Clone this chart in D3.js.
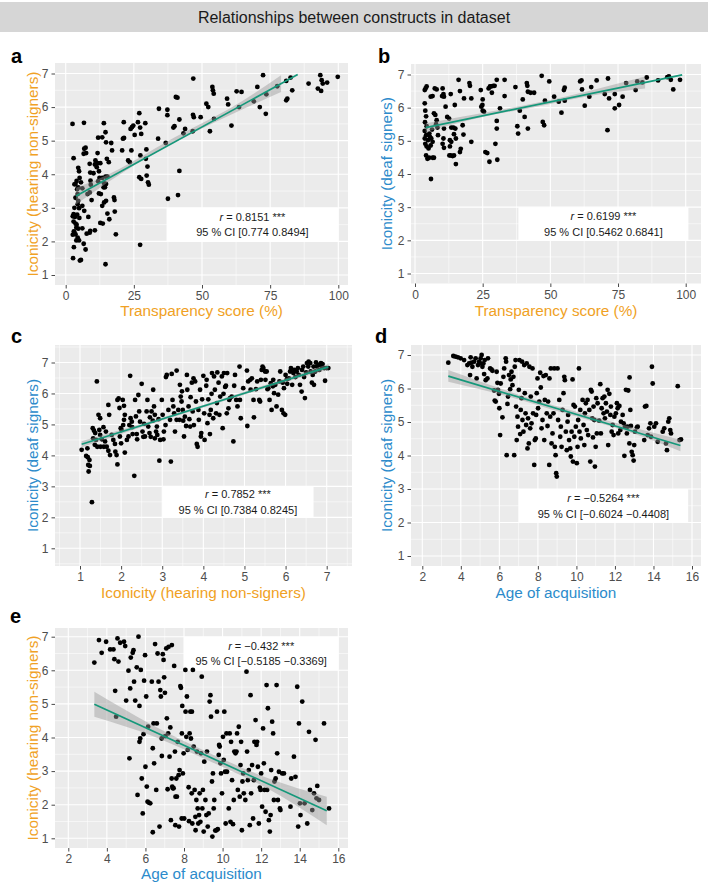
<!DOCTYPE html>
<html>
<head>
<meta charset="utf-8">
<script src="https://cdn.jsdelivr.net/npm/d3@7"></script>
<style>
  body { margin: 0; background: #fff; }
  svg { display: block; font-family: "Liberation Sans", Arial, Helvetica, sans-serif; }
</style>
</head>
<body>
<svg id="fig" width="708" height="883"></svg>
<script>
// ── data ──
const title = "Relationships between constructs in dataset";

const ticksTransp = [0, 25, 50, 75, 100];
const minorTransp = [12.5, 37.5, 62.5, 87.5];
const ticksIcon = [1, 2, 3, 4, 5, 6, 7];
const minorIcon = [0.5, 1.5, 2.5, 3.5, 4.5, 5.5, 6.5, 7.5];
const ticksAoA = [2, 4, 6, 8, 10, 12, 14, 16];
const minorAoA = [3, 5, 7, 9, 11, 13, 15];

// a: transparency vs iconicity (hearing non-signers)
const ptsA = [
  [2.5,5.5],[6.7,5.53],[2.9,4.48],[2.7,1.5],[3.0,1.83],[5.2,1.43],[5.6,1.45],[4.6,4.19],[4.9,4.09],[5.1,3.89],
  [3.6,3.71],[5.6,3.76],[4.6,3.61],[4.4,3.41],[4.6,3.21],[4.4,3.11],[4.9,2.99],[2.9,2.81],[3.4,2.73],[2.9,2.59],
  [3.6,2.53],[3.9,2.41],[4.6,2.38],[3.2,2.26],[3.6,2.21],[4.4,2.11],[4.9,2.03],[3.9,2.03],[6.1,2.39],[6.6,1.93],
  [7.3,1.76],[6.8,4.76],[7.3,4.79],[6.6,4.61],[7.5,4.63],[6.1,3.58],[8.0,3.41],[6.1,3.06],[6.8,2.91],[8.3,2.73],
  [7.7,2.23],[8.8,2.26],[3.2,3.7],[4.0,3.8],[3.2,3.0],[3.6,3.3],[4.2,2.8],[2.6,2.75],[2.6,2.2],[3.0,2.3],
  [4.0,2.5],[4.2,3.55],[5.0,2.7],
  [9.0,4.05],[8.8,4.31],[9.1,3.81],[9.2,3.69],[8.8,3.46],[9.5,3.23],[10.2,4.03],[10.7,4.29],[10.9,4.41],[11.7,4.33],
  [11.4,4.21],[12.2,4.09],[11.9,3.79],[12.4,3.89],[12.7,4.33],[11.9,5.09],[11.7,4.63],[13.4,3.89],[12.2,3.43],[12.9,3.41],
  [10.7,2.33],[9.0,2.31],[14.0,5.52],[13.6,2.53],[12.7,2.55],[13.4,3.06],[13.9,3.61],[14.1,3.73],[14.4,3.61],[14.8,3.71],
  [14.6,5.25],[14.8,4.95],[15.1,4.46],[15.8,4.36],[14.6,3.93],[15.3,3.93],[14.1,3.16],[15.3,2.83],[14.8,3.21],[16.7,4.93],
  [17.0,4.71],[16.0,2.66],[17.7,3.31],[17.9,3.23],[18.0,2.89],[18.4,2.21],[14.6,1.32],[13.4,5.1],
  [21.3,5.55],[21.4,5.08],[21.0,5.06],[20.7,4.71],[22.9,4.41],[23.5,4.36],[24.1,4.71],[23.8,5.35],[24.3,5.4],[24.8,5.45],
  [25.3,5.17],[26.5,5.55],[27.0,5.82],[27.3,5.39],[27.7,5.2],[27.0,3.91],[27.7,3.86],[27.4,4.56],[27.3,1.9],[29.2,5.52],
  [29.6,4.74],[29.4,4.46],[29.7,3.96],[30.0,4.23],[30.2,3.76],[30.5,3.69],
  [34.2,5.95],[33.9,5.06],[37.3,5.92],[37.3,5.76],[36.7,4.93],[37.5,3.27],[39.5,5.39],[39.9,5.43],[40.4,6.3],[41.0,6.28],
  [41.7,5.63],[41.2,3.38],[41.7,4.1],[43.2,5.22],[43.8,5.35],[46.8,6.85],[46.7,5.77],[47.0,5.7],[46.6,5.28],[49.5,5.7],
  [51.6,6.1],[52.3,6.0],[52.9,5.28],[53.8,6.6],[54.0,6.5],[54.3,6.4],[54.4,5.65],[59.2,6.25],[59.6,6.08],[60.8,5.45],
  [62.7,6.47],[64.5,6.45],[63.6,6.0],[69.0,6.17],[70.3,6.6],[71.2,6.0],[72.4,6.95],[73.4,5.8],[73.6,6.38],[77.6,6.62],
  [80.9,6.78],[81.3,6.25],[80.9,6.2],[82.5,6.88],[83.1,6.5],[89.1,6.7],[92.5,6.55],[93.4,6.95],[93.9,6.8],[93.7,6.48],
  [94.3,6.7],[95.9,6.73],[99.8,6.9]
];
const fitA = [[3.8, 3.35], [85.1, 6.97]];
const bandA = [[3.8, 3.1, 3.6], [20, 4.0, 4.17], [40, 4.95, 5.1], [60, 5.75, 5.95], [79, 6.45, 6.95]];
const statA = { r: "0.8151", ci: "[0.774 0.8494]", box: [37, 100, 2, 3] };

// b: transparency vs iconicity (deaf signers)
const ptsB = [
  [3.6,6.53],[3.9,6.58],[4.3,6.64],[3.6,6.13],[3.8,5.91],[4.1,5.74],[3.7,5.56],[4.3,5.44],[3.6,5.3],[4.1,5.17],
  [3.6,5.07],[4.8,5.02],[3.8,4.91],[4.3,4.83],[5.0,4.77],[4.1,4.56],[4.6,4.46],[5.2,4.49],[5.9,3.85],[6.5,4.49],
  [7.0,4.49],[5.5,5.12],[6.0,5.07],[6.5,4.97],[5.8,4.86],[5.3,5.22],[6.3,5.34],[5.8,6.33],[6.5,6.35],[7.3,6.58],
  [8.0,6.55],[7.0,5.83],[7.5,5.78],[8.0,5.62],[7.8,5.5],[8.3,5.4],[8.5,5.17],
  [10.2,6.58],[10.5,6.41],[10.7,6.33],[10.0,6.35],[11.3,6.03],[10.7,5.37],[10.5,5.07],[10.2,4.91],[10.7,4.79],[11.9,5.72],
  [12.6,5.67],[13.2,6.41],[13.4,5.4],[12.9,5.02],[13.4,4.97],[12.9,4.83],[12.7,4.56],[13.2,4.56],[13.9,4.54],[14.4,4.56],
  [14.2,5.4],[14.4,5.2],[14.7,6.08],[15.1,4.3],[14.9,5.37],[15.1,5.07],[16.1,6.84],[16.6,6.5],[16.9,4.76],[16.6,4.66],
  [17.6,5.47],[17.9,5.19],[18.1,6.28],[20.1,6.74],[20.3,6.66],[20.8,6.28],[20.8,4.97],
  [24.3,6.53],[24.5,6.03],[24.9,6.08],[25.0,6.25],[25.0,5.91],[25.5,5.88],[26.0,4.66],[26.7,4.63],[27.2,6.58],[27.7,6.64],
  [28.2,6.64],[28.4,6.45],[28.9,6.66],[29.4,6.66],[29.7,4.91],[30.2,6.84],[30.2,5.6],[30.2,5.37],[30.4,4.43],[31.4,5.98],
  [33.1,6.84],[33.1,6.35],[27.5,4.37],
  [37.1,6.62],[37.8,5.44],[38.1,5.22],[38.7,5.91],[39.8,6.25],[40.5,5.72],[41.3,6.74],[41.5,6.66],[41.7,6.48],[41.7,5.37],
  [42.7,6.45],[44.0,6.45],[46.8,6.96],[47.2,5.57],[47.7,5.47],[48.0,6.21],[49.6,6.79],
  [51.4,6.33],[53.1,6.18],[54.1,5.85],[55.0,6.53],[55.3,6.6],[55.3,6.21],[61.0,6.79],[61.5,6.82],[61.7,6.55],[62.7,6.06],
  [64.4,6.33],[65.1,6.62],[67.1,6.82],[70.1,6.41],[71.3,6.88],[71.7,6.28],[71.1,5.32],[73.8,5.98],[73.8,6.41],[75.4,6.08],
  [76.7,6.33],[78.0,6.74],[81.5,6.53],[82.1,6.79],[84.0,6.76],[85.6,6.91],[89.8,6.82],[93.2,6.92],[93.8,6.94],[94.5,6.84],
  [95.4,6.55],[97.9,6.84]
];
const fitB = [[3.95, 5.40], [98.7, 6.99]];
const bandB = [[3.95, 5.27, 5.53], [25, 5.72, 5.84], [45, 6.03, 6.15], [65, 6.36, 6.52], [85, 6.58, 6.94]];
const statB = { r: "0.6199", ci: "[0.5462 0.6841]", box: [38.2, 101, 2, 3] };

// c: iconicity hearing non-signers vs deaf signers
const ptsC = [
  [1.04,4.18],[1.18,4.23],[1.15,3.98],[1.19,3.94],[1.23,3.85],[1.2,3.69],[1.24,3.66],[1.21,3.48],[1.29,2.49],[1.41,6.39],
  [1.31,4.88],[1.34,4.8],[1.37,4.72],[1.32,4.55],[1.39,4.5],[1.36,4.34],[1.42,4.28],[1.45,5.31],[1.49,5.2],[1.47,4.82],
  [1.49,4.66],[1.53,4.52],[1.5,4.28],[1.57,4.91],[1.63,4.77],[1.61,4.45],[1.58,4.28],[1.69,5.63],[1.65,4.28],[1.69,4.15],
  [1.73,4.01],[1.71,5.31],[1.77,4.66],[1.81,4.5],[1.85,4.37],[1.86,4.12],[1.89,4.01],[1.91,5.79],[1.94,5.84],[1.91,3.71],
  [1.96,5.53],[1.99,4.88],[2.01,4.82],[1.97,4.61],[2.0,4.39],[2.04,5.79],[2.07,5.6],[2.09,5.31],[2.07,5.15],[2.05,4.98],
  [2.09,4.09],[2.14,4.5],[2.18,4.61],[2.2,4.98],[2.22,6.57],[2.23,5.2],[2.26,5.09],[2.27,4.91],[2.28,4.69],[2.32,3.34],
  [2.34,5.79],[2.36,5.26],[2.38,4.69],[2.39,4.52],[2.42,5.95],[2.44,5.42],[2.46,5.09],[2.5,6.31],[2.52,4.77],[2.56,5.02],
  [2.54,4.6],[2.58,4.61],[2.62,5.42],[2.64,5.79],[2.66,4.93],[2.69,4.72],[2.7,5.23],[2.72,4.6],[2.74,5.42],[2.77,5.12],
  [2.78,6.12],[2.8,5.58],[2.82,4.55],[2.82,5.31],[2.85,4.77],[2.87,4.93],[2.88,4.66],[2.91,5.17],[2.93,3.83],[2.95,4.5],
  [2.99,5.79],[3.01,5.31],[3.03,4.52],[3.04,4.77],[3.08,4.98],[3.09,6.53],[3.11,6.6],[3.15,5.47],[3.19,5.15],[3.21,3.8],
  [3.23,6.63],[3.25,5.79],[3.27,5.58],[3.29,5.36],[3.31,4.77],[3.35,6.74],[3.35,5.15],[3.39,5.47],[3.42,5.15],[3.43,6.28],
  [3.45,5.9],[3.47,5.74],[3.48,6.07],[3.5,5.47],[3.51,5.12],[3.53,4.61],[3.55,5.25],[3.58,4.95],[3.6,6.6],[3.61,6.12],
  [3.64,5.58],[3.66,5.17],[3.68,4.93],[3.69,5.88],[3.72,6.35],[3.74,5.42],[3.76,6.49],[3.77,4.98],[3.8,6.39],[3.82,5.74],
  [3.84,4.37],[3.86,4.28],[3.88,5.47],[3.89,5.15],[3.92,6.12],[3.94,4.61],[3.95,4.72],[3.97,5.81],[4.0,6.57],[4.02,5.36],
  [4.03,4.5],[4.07,6.25],[4.08,6.44],[4.1,5.04],[4.12,5.81],[4.15,5.31],[4.16,4.69],[4.18,5.47],[4.2,5.99],[4.21,6.66],
  [4.24,5.2],[4.26,6.55],[4.28,6.12],[4.31,5.36],[4.33,5.69],[4.34,6.68],[4.37,6.35],[4.39,5.31],[4.41,5.9],[4.45,6.55],
  [4.47,4.88],[4.49,5.99],[4.5,6.66],[4.53,6.21],[4.55,6.25],[4.57,5.36],[4.58,6.66],[4.61,5.52],[4.63,5.79],[4.65,5.85],
  [4.69,5.9],[4.73,4.45],[4.75,6.25],[4.77,6.6],[4.8,5.79],[4.83,5.58],[4.88,6.87],[4.89,5.79],[4.91,5.2],[4.97,6.17],
  [5.06,6.74],[5.07,4.95],[5.09,6.39],[5.14,6.44],[5.15,6.12],[5.18,6.49],[5.22,5.79],[5.23,5.23],[5.28,6.14],[5.31,6.39],
  [5.36,5.79],[5.38,5.74],[5.4,6.44],[5.42,6.76],[5.44,6.87],[5.46,6.82],[5.5,6.71],[5.51,6.44],[5.54,6.71],[5.56,6.14],
  [5.58,6.17],[5.61,5.79],[5.64,6.33],[5.66,5.47],[5.69,6.23],[5.7,6.44],[5.72,6.01],[5.75,6.28],[5.78,5.58],[5.82,5.96],
  [5.85,6.39],[5.87,6.71],[5.91,5.47],[5.93,6.35],[5.95,5.36],[5.96,6.17],[5.99,5.31],[6.0,6.6],[6.03,6.46],[6.04,6.31],
  [6.08,6.49],[6.11,6.71],[6.13,6.82],[6.16,6.28],[6.19,6.66],[6.21,6.76],[6.24,6.53],[6.27,6.71],[6.3,6.82],[6.32,6.6],
  [6.35,6.28],[6.39,6.06],[6.4,6.76],[6.43,6.87],[6.45,6.53],[6.47,5.85],[6.5,6.68],[6.52,6.98],[6.55,6.87],[6.56,7.03],
  [6.6,6.98],[6.61,6.71],[6.64,6.35],[6.66,6.6],[6.68,6.87],[6.69,6.28],[6.72,6.71],[6.74,7.0],[6.76,6.87],[6.8,6.92],
  [6.82,6.76],[6.86,6.98],[6.88,6.87],[6.9,6.95],[6.94,6.82],[6.96,6.41],[7.0,6.82],[7.04,6.82]
];
const fitC = [[1.04, 4.36], [7.04, 6.86]];
const bandC = [[1.04, 4.26, 4.46], [2.5, 4.92, 5.02], [4.0, 5.55, 5.63], [5.5, 6.17, 6.27], [7.04, 6.77, 6.95]];
const statC = { r: "0.7852", ci: "[0.7384 0.8245]", box: [3.0, 6.68, 2, 3] };

// d: age of acquisition vs iconicity (deaf signers)
const ptsD = [
  [3.35,6.77],[3.61,6.97],[3.73,6.95],[3.85,6.93],[3.99,6.9],[4.17,6.85],[4.34,6.7],[4.43,6.75],[4.51,6.93],[4.48,6.4],
  [4.55,6.77],[4.6,6.65],[4.69,6.8],[4.77,6.9],[4.82,6.3],[4.89,6.7],[4.95,6.8],[5.0,6.75],[5.03,6.9],[5.08,7.0],
  [5.12,6.65],[5.17,6.75],[5.21,6.43],[5.24,6.85],[5.29,6.25],[5.38,6.3],[5.41,6.9],[5.52,6.6],[5.59,6.57],[5.64,6.53],
  [5.73,5.94],[5.76,5.64],[5.81,5.61],[5.86,6.5],[5.9,6.17],[5.93,5.96],[5.98,5.84],[6.0,5.41],[6.04,4.61],[6.07,6.15],
  [6.16,5.14],[6.21,6.35],[6.25,6.6],[6.33,6.9],[6.35,6.8],[6.38,4.01],[6.42,5.54],[6.45,5.76],[6.5,6.4],[6.56,5.98],
  [6.59,6.27],[6.63,6.5],[6.68,6.1],[6.73,6.35],[6.77,4.01],[6.8,6.65],[6.84,6.85],[6.87,5.46],[6.9,4.46],[6.94,5.16],
  [6.97,4.86],[7.01,5.96],[7.04,6.85],[7.08,4.64],[7.11,5.36],[7.15,5.71],[7.18,6.8],[7.2,5.06],[7.25,4.71],[7.29,6.7],
  [7.32,5.86],[7.36,5.26],[7.39,4.91],[7.42,6.75],[7.46,4.21],[7.49,5.11],[7.53,4.36],[7.56,6.65],[7.6,4.81],[7.63,5.76],
  [7.67,4.96],[7.72,6.6],[7.75,5.26],[7.81,3.72],[7.84,4.46],[7.89,4.51],[7.91,5.21],[7.94,5.86],[7.98,6.3],[8.01,5.41],
  [8.07,5.61],[8.12,6.47],[8.15,6.03],[8.19,4.81],[8.24,5.06],[8.29,6.37],[8.33,4.46],[8.36,5.66],[8.41,6.4],[8.46,5.26],
  [8.5,4.88],[8.53,5.61],[8.59,3.72],[8.6,6.3],[8.64,5.16],[8.67,6.6],[8.71,4.36],[8.76,4.66],[8.81,5.26],[8.85,6.6],
  [8.88,4.26],[8.92,4.01],[8.95,3.47],[8.98,3.37],[9.02,6.6],[9.05,5.06],[9.11,5.66],[9.16,4.56],[9.19,4.86],[9.23,4.26],
  [9.28,5.36],[9.33,5.86],[9.37,6.35],[9.4,6.25],[9.45,4.71],[9.5,4.16],[9.54,5.01],[9.57,5.21],[9.62,4.46],[9.68,4.21],
  [9.71,3.97],[9.75,4.71],[9.8,6.27],[9.82,3.82],[9.85,5.51],[9.89,4.56],[9.92,5.46],[9.97,4.86],[10.02,3.77],[10.06,4.26],
  [10.09,5.06],[10.13,6.6],[10.16,4.71],[10.2,5.36],[10.23,4.51],[10.32,5.66],[10.37,4.91],[10.41,4.31],[10.44,5.26],[10.49,5.56],
  [10.54,4.76],[10.58,5.66],[10.61,4.61],[10.67,5.36],[10.72,3.82],[10.75,5.96],[10.79,5.91],[10.82,5.11],[10.86,4.54],[10.89,5.46],
  [10.93,5.06],[10.96,3.67],[11.0,4.26],[11.03,5.71],[11.06,4.66],[11.1,5.56],[11.18,5.04],[11.24,6.13],[11.27,4.66],[11.31,5.41],
  [11.36,5.71],[11.41,5.26],[11.45,5.76],[11.48,5.11],[11.53,5.56],[11.58,5.31],[11.62,5.96],[11.65,4.31],[11.71,5.84],[11.76,5.21],
  [11.79,5.46],[11.83,4.71],[11.88,4.91],[11.93,4.61],[11.97,5.16],[12.05,5.26],[12.1,5.56],[12.14,5.41],[12.17,4.66],[12.23,5.48],
  [12.28,4.76],[12.31,5.01],[12.4,5.21],[12.45,4.96],[12.49,3.99],[12.52,4.86],[12.57,5.96],[12.62,4.66],[12.66,4.86],[12.69,5.94],
  [12.75,4.36],[12.76,6.33],[12.8,5.36],[12.83,4.88],[12.87,4.11],[12.92,4.01],[12.97,3.85],[13.0,4.31],[13.04,4.71],[13.14,4.84],
  [13.18,4.86],[13.52,4.46],[13.56,5.46],[13.63,5.48],[13.7,4.61],[13.77,4.81],[13.84,4.96],[13.87,4.56],[13.92,6.65],[13.96,6.15],
  [14.04,4.86],[14.13,4.96],[14.22,4.41],[14.48,4.71],[14.56,4.81],[14.65,4.36],[14.7,4.16],[14.77,5.01],[14.82,5.11],[14.87,4.76],
  [14.91,4.66],[15.26,6.07],[15.35,4.46],[15.43,4.48]
];
const fitD = [[3.35, 6.37], [15.4, 4.30]];
const bandD = [[3.35, 6.2, 6.55], [6.4, 5.77, 5.93], [9.4, 5.26, 5.40], [12.4, 4.76, 4.92], [15.4, 4.13, 4.47]];
const statD = { r: "\u22120.5264", ci: "[\u22120.6024 \u22120.4408]", box: [7, 15.8, 2, 3] };

// e: age of acquisition vs iconicity (hearing non-signers)
const ptsE = [
  [3.35,6.23],[3.59,6.9],[3.73,6.52],[3.96,6.85],[4.17,6.62],[4.34,6.62],[4.39,6.33],[4.55,6.95],[4.6,6.26],[4.43,5.39],
  [4.48,4.62],[4.69,6.82],[4.89,6.85],[4.95,6.72],[5.0,5.1],[5.12,5.99],[5.17,3.38],[5.21,5.46],[5.24,6.38],[5.34,6.52],
  [5.38,6.6],[5.47,5.1],[5.41,5.66],[5.55,6.09],[5.59,2.29],[5.64,7.0],[5.69,4.94],[5.73,3.97],[5.69,3.87],[5.76,6.01],
  [5.81,2.78],[5.86,1.74],[5.9,4.1],[5.93,5.69],[5.98,6.45],[6.0,3.13],[6.04,5.22],[6.07,2.54],[6.11,2.09],[6.14,4.32],
  [6.18,2.06],[6.25,2.04],[6.33,5.66],[6.38,3.68],[6.42,4.42],[6.45,3.23],[6.38,1.18],[6.5,6.78],[6.56,2.44],[6.59,4.42],
  [6.63,6.5],[6.68,5.66],[6.73,1.35],[6.77,5.41],[6.8,5.22],[6.84,3.97],[6.85,3.45],[6.9,6.48],[6.94,6.31],[6.97,5.79],
  [7.01,5.33],[7.03,4.04],[7.08,6.65],[7.11,4.57],[7.15,2.46],[7.18,4.12],[7.2,6.7],[7.25,3.43],[7.29,4.3],[7.32,1.54],
  [7.36,2.78],[7.37,6.75],[7.39,2.54],[7.42,2.49],[7.46,2.49],[7.49,6.13],[7.53,3.58],[7.55,1.39],[7.56,2.24],[7.6,2.78],
  [7.63,2.24],[7.67,3.87],[7.72,2.88],[7.74,1.35],[7.77,3.03],[7.81,5.53],[7.84,5.48],[7.88,1.59],[7.89,4.12],[7.91,4.94],
  [7.94,2.93],[7.98,3.53],[8.01,1.59],[8.07,6.01],[8.08,4.77],[8.12,4.02],[8.15,5.22],[8.19,3.63],[8.24,2.52],[8.26,1.51],
  [8.29,4.12],[8.33,4.77],[8.36,3.97],[8.4,2.34],[8.41,4.77],[8.43,1.44],[8.46,6.01],[8.5,3.73],[8.55,2.44],[8.59,1.64],
  [8.6,1.24],[8.64,2.14],[8.67,3.58],[8.71,1.89],[8.74,1.44],[8.78,1.69],[8.81,2.34],[8.85,1.49],[8.88,3.53],[8.92,5.81],
  [8.95,1.89],[8.98,2.44],[9.02,1.2],[9.05,3.28],[9.11,2.14],[9.16,1.69],[9.19,3.58],[9.23,1.35],[9.28,1.74],[9.33,5.07],
  [9.37,5.26],[9.4,4.62],[9.45,2.69],[9.47,1.05],[9.5,2.93],[9.54,1.89],[9.57,2.14],[9.62,1.23],[9.68,1.24],[9.71,4.77],
  [9.75,1.27],[9.8,3.48],[9.82,3.78],[9.85,3.73],[9.89,3.23],[9.92,2.93],[9.97,2.34],[10.02,4.02],[10.06,3.33],[10.09,4.77],
  [10.13,2.98],[10.16,1.44],[10.2,4.12],[10.23,2.98],[10.32,1.89],[10.37,4.12],[10.41,1.49],[10.44,3.87],[10.49,2.73],[10.54,1.42],
  [10.58,2.14],[10.61,3.58],[10.67,3.53],[10.72,3.58],[10.75,4.12],[10.79,2.44],[10.84,4.32],[10.89,2.24],[10.93,3.18],[10.96,3.87],
  [11.0,1.24],[11.03,2.69],[11.07,2.93],[11.1,2.34],[11.18,2.14],[11.24,5.96],[11.27,3.58],[11.31,2.73],[11.36,3.03],[11.41,1.39],
  [11.45,5.26],[11.48,2.34],[11.53,3.18],[11.58,1.59],[11.62,2.73],[11.65,3.87],[11.71,4.52],[11.76,3.78],[11.79,3.87],[11.83,3.13],
  [11.88,1.44],[11.93,2.51],[11.97,2.44],[12.0,2.93],[12.05,1.94],[12.1,4.27],[12.14,3.23],[12.17,2.44],[12.23,1.79],[12.28,5.56],
  [12.31,2.44],[12.35,4.87],[12.4,1.54],[12.45,1.2],[12.49,1.69],[12.52,3.03],[12.57,4.47],[12.62,4.12],[12.66,2.14],[12.69,2.69],
  [12.75,2.78],[12.8,5.56],[12.83,3.53],[12.87,2.14],[12.92,2.98],[12.97,1.89],[13.0,1.84],[13.09,2.93],[13.18,2.93],[13.52,1.94],
  [13.56,2.78],[13.7,3.43],[13.78,2.83],[13.87,5.51],[13.92,1.35],[13.96,4.42],[14.01,2.04],[14.04,1.69],[14.13,5.07],[14.25,2.04],
  [14.39,1.44],[14.48,4.17],[14.53,2.44],[14.65,1.84],[14.74,2.34],[14.82,3.93],[14.87,2.19],[14.91,2.56],[15.0,2.14],[15.26,4.42],
  [15.52,1.89]
];
const fitE = [[3.35, 4.99], [15.4, 1.82]];
const bandE = [[3.35, 4.62, 5.36], [6.4, 4.04, 4.36], [9.4, 3.28, 3.52], [12.4, 2.46, 2.78], [15.4, 1.39, 2.24]];
const statE = { r: "\u22120.432", ci: "[\u22120.5185 \u22120.3369]", box: [8, 16, 6, 7] };

// ── colours ──
const orange = "#F0A124";
const blue = "#2C8BCB";
const green = "#15987A";

// ── layout: pixel boxes and tick anchors per panel ──
const panels = [
  { id: "a", pts: ptsA, fit: fitA, band: bandA, stat: statA,
    box: { l: 55, r: 348, t: 63, b: 285 }, xd: [0, 100], xr: [65.7, 338.3], yd: [1, 7], yr: [275, 73.5],
    xt: ticksTransp, xm: minorTransp, yt: ticksIcon, ym: minorIcon,
    xlab: "Transparency score (%)", xcol: orange, ylab: "Iconicity (hearing non-signers)", ycol: orange,
    tag: [11, 62.5], ytx: 38, xty: 315.5 },
  { id: "b", pts: ptsB, fit: fitB, band: bandB, stat: statB,
    box: { l: 411, r: 701, t: 64, b: 283.5 }, xd: [0, 100], xr: [415, 685.7], yd: [1, 7], yr: [273.5, 74.5],
    xt: ticksTransp, xm: minorTransp, yt: ticksIcon, ym: minorIcon,
    xlab: "Transparency score (%)", xcol: orange, ylab: "Iconicity (deaf signers)", ycol: blue,
    tag: [378, 63], ytx: 392, xty: 315.5 },
  { id: "c", pts: ptsC, fit: fitC, band: bandC, stat: statC,
    box: { l: 55, r: 352, t: 345, b: 566 }, xd: [1, 7], xr: [80, 326.7], yd: [1, 7], yr: [548.3, 362.5],
    xt: ticksIcon, xm: minorIcon, yt: ticksIcon, ym: minorIcon,
    xlab: "Iconicity (hearing non-signers)", xcol: orange, ylab: "Iconicity (deaf signers)", ycol: blue,
    tag: [11, 342.5], ytx: 38, xty: 597.5 },
  { id: "d", pts: ptsD, fit: fitD, band: bandD, stat: statD,
    box: { l: 411, r: 701, t: 345, b: 566 }, xd: [2, 16], xr: [422.3, 692], yd: [1, 7], yr: [556, 355],
    xt: ticksAoA, xm: minorAoA, yt: ticksIcon, ym: minorIcon,
    xlab: "Age of acquisition", xcol: blue, ylab: "Iconicity (deaf signers)", ycol: blue,
    tag: [375, 343], ytx: 392, xty: 597.5 },
  { id: "e", pts: ptsE, fit: fitE, band: bandE, stat: statE,
    box: { l: 55, r: 348, t: 628, b: 848 }, xd: [2, 16], xr: [68.3, 338.3], yd: [1, 7], yr: [838.3, 636.7],
    xt: ticksAoA, xm: minorAoA, yt: ticksIcon, ym: minorIcon,
    xlab: "Age of acquisition", xcol: blue, ylab: "Iconicity (hearing non-signers)", ycol: orange,
    tag: [10, 622.5], ytx: 38, xty: 878.5 }
];

const svg = d3.select("#fig");

// title band
svg.append("rect").attr("x", 0).attr("y", 2).attr("width", 708).attr("height", 30).attr("fill", "#D6D6D6");
svg.append("text").attr("x", 354).attr("y", 22.5).attr("text-anchor", "middle")
  .attr("font-size", 16).attr("fill", "#1a1a1a").text(title);

function drawPanel(p) {
  const B = p.box;
  const x = d3.scaleLinear().domain(p.xd).range(p.xr);
  const y = d3.scaleLinear().domain(p.yd).range(p.yr);
  const g = svg.append("g").attr("class", "panel-" + p.id);

  g.append("clipPath").attr("id", "clip-" + p.id).append("rect")
    .attr("x", B.l).attr("y", B.t).attr("width", B.r - B.l).attr("height", B.b - B.t);

  g.append("rect").attr("x", B.l).attr("y", B.t).attr("width", B.r - B.l).attr("height", B.b - B.t)
    .attr("fill", "#EBEBEB");

  const inner = g.append("g").attr("clip-path", `url(#clip-${p.id})`);

  // grid
  inner.selectAll("line.xm").data(p.xm).join("line").attr("class", "xm")
    .attr("x1", d => x(d)).attr("x2", d => x(d)).attr("y1", B.t).attr("y2", B.b)
    .attr("stroke", "#fff").attr("stroke-width", 0.55);
  inner.selectAll("line.ym").data(p.ym).join("line").attr("class", "ym")
    .attr("y1", d => y(d)).attr("y2", d => y(d)).attr("x1", B.l).attr("x2", B.r)
    .attr("stroke", "#fff").attr("stroke-width", 0.55);
  inner.selectAll("line.xg").data(p.xt).join("line").attr("class", "xg")
    .attr("x1", d => x(d)).attr("x2", d => x(d)).attr("y1", B.t).attr("y2", B.b)
    .attr("stroke", "#fff").attr("stroke-width", 1.1);
  inner.selectAll("line.yg").data(p.yt).join("line").attr("class", "yg")
    .attr("y1", d => y(d)).attr("y2", d => y(d)).attr("x1", B.l).attr("x2", B.r)
    .attr("stroke", "#fff").attr("stroke-width", 1.1);

  // stats box
  const [bx0, bx1, by0, by1] = p.stat.box;
  inner.append("rect").attr("x", x(bx0)).attr("y", y(by1))
    .attr("width", x(bx1) - x(bx0)).attr("height", y(by0) - y(by1)).attr("fill", "#fff");

  // points
  inner.selectAll("circle").data(p.pts).join("circle")
    .attr("cx", d => x(d[0])).attr("cy", d => y(d[1])).attr("r", 2.4).attr("fill", "#000");

  // confidence band and fit line
  const area = d3.area().x(d => x(d[0])).y0(d => y(d[1])).y1(d => y(d[2])).curve(d3.curveNatural);
  inner.append("path").datum(p.band).attr("d", area).attr("fill", "#999").attr("fill-opacity", 0.45);
  inner.append("path").datum(p.fit)
    .attr("d", d3.line().x(d => x(d[0])).y(d => y(d[1])))
    .attr("stroke", green).attr("stroke-width", 1.7).attr("fill", "none");

  // stats text
  const cx = (x(bx0) + x(bx1)) / 2;
  const cy = (y(by0) + y(by1)) / 2;
  const t1 = g.append("text").attr("x", cx).attr("y", cy - 7.5).attr("dy", "0.35em")
    .attr("text-anchor", "middle").attr("font-size", 11).attr("fill", "#1a1a1a");
  t1.append("tspan").attr("font-style", "italic").text("r");
  t1.append("tspan").text(" = " + p.stat.r + " ***");
  g.append("text").attr("x", cx).attr("y", cy + 8).attr("dy", "0.35em")
    .attr("text-anchor", "middle").attr("font-size", 11).attr("fill", "#1a1a1a")
    .text("95 % CI " + p.stat.ci);

  // axes
  const ax = g.append("g").attr("transform", `translate(0,${B.b})`)
    .call(d3.axisBottom(x).tickValues(p.xt).tickSize(3.5).tickPadding(3).tickFormat(d3.format("d")));
  const ay = g.append("g").attr("transform", `translate(${B.l},0)`)
    .call(d3.axisLeft(y).tickValues(p.yt).tickSize(3.5).tickPadding(3).tickFormat(d3.format("d")));
  [ax, ay].forEach(a => {
    a.select(".domain").remove();
    a.selectAll(".tick line").attr("stroke", "#333").attr("stroke-width", 0.9);
    a.selectAll(".tick text").attr("fill", "#4D4D4D").attr("font-size", 12)
      .attr("font-family", "Liberation Sans, Arial, sans-serif");
  });

  // axis titles
  g.append("text").attr("x", (B.l + B.r) / 2).attr("y", p.xty).attr("text-anchor", "middle")
    .attr("font-size", 15.3).attr("fill", p.xcol).text(p.xlab);
  g.append("text").attr("transform", `translate(${p.ytx},${(B.t + B.b) / 2}) rotate(-90)`)
    .attr("text-anchor", "middle").attr("font-size", 15.3).attr("fill", p.ycol).text(p.ylab);

  // panel tag
  g.append("text").attr("x", p.tag[0]).attr("y", p.tag[1]).attr("font-size", 20)
    .attr("font-weight", "bold").attr("fill", "#000").text(p.id);
}

panels.forEach(drawPanel);
</script>
</body>
</html>
